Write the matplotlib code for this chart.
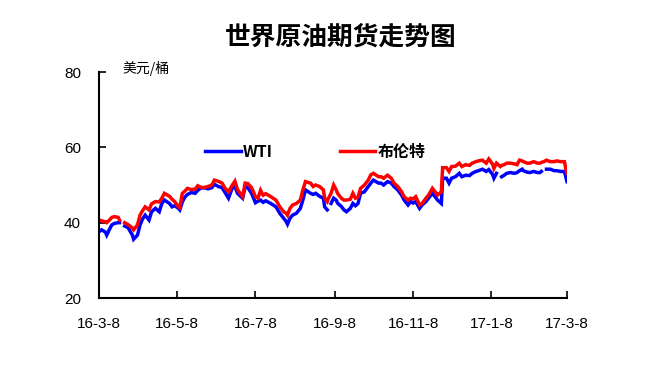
import matplotlib
matplotlib.use("Agg")
import matplotlib.pyplot as plt
import matplotlib.dates as mdates
import numpy as np
import pandas as pd

plt.rcParams['font.family'] = ['Noto Sans CJK SC', 'DejaVu Sans']

title = "世界原油期货走势图"
unit_label = "美元/桶"
series_names = ["WTI", "布伦特"]
start_date = "2016-03-08"

# days after start date
days = [0, 2, 5, 6, 9, 10, 12, 15, 16, 17, 20, 22, 23, 26, 27, 30, 32, 34, 36, 39,
        41, 44, 47, 49, 51, 55, 57, 59, 62, 63, 65, 67, 69, 72, 75, 77, 80, 83, 85, 88,
        90, 93, 96, 98, 101, 104, 106, 108, 112, 114, 116, 119, 122, 124, 126, 128, 130, 134, 138, 141,
        144, 146, 147, 149, 151, 154, 157, 159, 161, 165, 167, 169, 172, 175, 176, 178, 179, 181, 183, 185,
        186, 189, 191, 193, 196, 198, 200, 202, 204, 207, 210, 212, 214, 218, 220, 222, 225, 228, 230, 233,
        236, 238, 241, 243, 245, 247, 250, 252, 255, 257, 260, 263, 264, 267, 268, 271, 273, 275, 278, 281,
        283, 286, 289, 291, 294, 296, 299, 302, 304, 307, 308, 310, 313, 314, 316, 318, 321, 324, 326, 328,
        330, 331, 334, 336, 339, 342, 344, 345, 347, 349, 352, 355, 357, 360, 363, 364, 365]

wti = [37.6, 38.1, 37.5, 36.7, 38.8, 39.4, 39.8, 40.0, 40.0, np.nan, 39.1, 38.8, 38.5, 36.7, 35.6, 36.7, 39.4, 41.0, 42.0, 40.7,
       42.9, 43.8, 42.9, 45.1, 46.0, 45.1, 44.2, 44.5, 43.8, 43.4, 45.5, 46.8, 47.5, 48.0, 47.8, 48.6, 49.3, 49.2, 49.0, 49.3,
       50.2, 49.6, 49.3, 48.2, 46.5, 49.3, 49.6, 47.8, 46.5, 49.6, 49.3, 47.8, 45.3, 45.7, 46.0, 45.4, 45.8, 45.1, 44.2, 42.5,
       41.2, 40.3, 39.6, 41.2, 42.0, 42.5, 43.8, 46.0, 48.7, 47.8, 47.5, 47.8, 47.0, 46.5, 44.2, 43.4, np.nan, 45.1, 46.5, 46.0,
       45.2, 44.3, 43.4, 42.9, 43.8, 45.1, 44.5, 45.1, 47.8, 48.2, 49.6, 50.5, 51.3, 50.5, 50.5, 50.0, 50.9, 50.5, 49.6, 48.7,
       47.3, 46.0, 44.7, 45.6, 45.2, 45.6, 43.8, 44.7, 45.6, 46.5, 47.8, 46.5, 46.0, 45.1, 51.8, 51.8, 50.5, 51.8, 52.2, 53.1,
       52.2, 52.6, 52.5, 53.1, 53.6, 53.8, 54.2, 53.6, 54.1, 52.8, 51.8, 53.1, np.nan, 52.2, 52.6, 53.1, 53.3, 53.1, 53.3, 53.8,
       54.2, 53.8, 53.4, 53.3, 53.6, 53.3, 53.3, 53.6, np.nan, 54.2, 54.2, 53.8, 53.8, 53.6, 53.6, 52.2, 50.9]

brent = [40.7, 40.5, 40.2, 40.0, 41.0, 41.4, 41.6, 41.4, 40.7, np.nan, 40.0, 39.6, 39.4, 38.6, 38.1, 39.4, 42.0, 43.2, 44.2, 43.4,
         45.0, 45.6, 45.5, 46.5, 47.8, 47.0, 46.2, 45.6, 44.2, 44.0, 47.8, 48.4, 49.1, 48.8, 48.9, 49.8, 49.3, 49.4, 49.6, 50.0,
         51.3, 51.0, 50.5, 49.3, 48.2, 50.0, 51.0, 48.8, 46.9, 50.5, 50.4, 49.3, 46.9, 46.5, 48.6, 47.3, 47.7, 46.9, 46.0, 44.2,
         42.9, 42.5, 42.0, 43.8, 44.7, 45.1, 46.0, 48.7, 50.9, 50.5, 49.6, 50.0, 49.6, 48.7, 46.5, 45.6, 46.5, 47.8, 50.0, 48.7,
         47.8, 46.5, 46.0, 46.0, 46.2, 47.8, 46.5, 46.8, 49.1, 50.0, 51.3, 52.7, 53.1, 52.2, 52.2, 51.8, 52.6, 51.8, 50.5, 49.6,
         48.2, 46.9, 46.0, 46.5, 46.3, 46.9, 44.7, 45.1, 46.5, 47.3, 49.1, 47.8, 47.3, 48.2, 54.6, 54.6, 53.6, 54.9, 55.0, 55.8,
         54.9, 55.4, 55.2, 55.8, 56.2, 56.4, 56.6, 55.8, 56.9, 55.5, 54.4, 55.8, 54.9, 55.2, 55.4, 55.8, 55.8, 55.6, 55.4, 56.6,
         56.4, 56.2, 55.8, 55.8, 56.2, 55.8, 55.8, 56.0, 56.2, 56.6, 56.2, 56.2, 56.4, 56.2, 56.2, 54.4, 53.1]

tick_dates = ["2016-03-08", "2016-05-08", "2016-07-08", "2016-09-08",
              "2016-11-08", "2017-01-08", "2017-03-08"]
tick_labels = ["16-3-8", "16-5-8", "16-7-8", "16-9-8", "16-11-8", "17-1-8", "17-3-8"]
y_ticks = [20, 40, 60, 80]

dates = pd.Timestamp(start_date) + pd.to_timedelta(days, unit="D")

fig = plt.figure(figsize=(6.49, 3.68), dpi=100)
ax = fig.add_axes([99/649, 1-298/368, 468/649, 226/368])

ax.plot(dates, wti, color="#0000FF", lw=2.5, label=series_names[0], solid_joinstyle="miter")
ax.plot(dates, brent, color="#FF0000", lw=2.5, label=series_names[1], solid_joinstyle="miter")

ax.set_ylim(20, 80)
ax.set_xlim(pd.Timestamp(tick_dates[0]), pd.Timestamp(tick_dates[-1]))
ax.set_yticks(y_ticks)
ax.set_yticklabels([str(v) for v in y_ticks], family="Liberation Sans", fontsize=11)
ax.set_xticks([pd.Timestamp(d) for d in tick_dates])
ax.set_xticklabels(tick_labels, family="Liberation Sans", fontsize=11)
ax.tick_params(axis="both", direction="in", length=5, width=1.2, colors="black")
ax.tick_params(axis="y", pad=13)
ax.tick_params(axis="x", pad=14)
for s in ["top", "right"]:
    ax.spines[s].set_visible(False)
for s in ["left", "bottom"]:
    ax.spines[s].set_linewidth(1.5)

leg = ax.legend(loc="center", bbox_to_anchor=((315.5-99)/468, (298-152)/226), ncol=2,
                frameon=False, handlelength=2.2, handletextpad=0.15, columnspacing=4.2,
                prop={"family": ["Noto Sans CJK SC", "DejaVu Sans"], "weight": "bold", "size": 11.5})

fig.text(341/649, 1-37/368, title, ha="center", va="center", fontsize=18.5, fontweight="bold")
fig.text(122/649, 1-68/368, unit_label, ha="left", va="center", fontsize=10)

fig.savefig("out.png", dpi=100)
